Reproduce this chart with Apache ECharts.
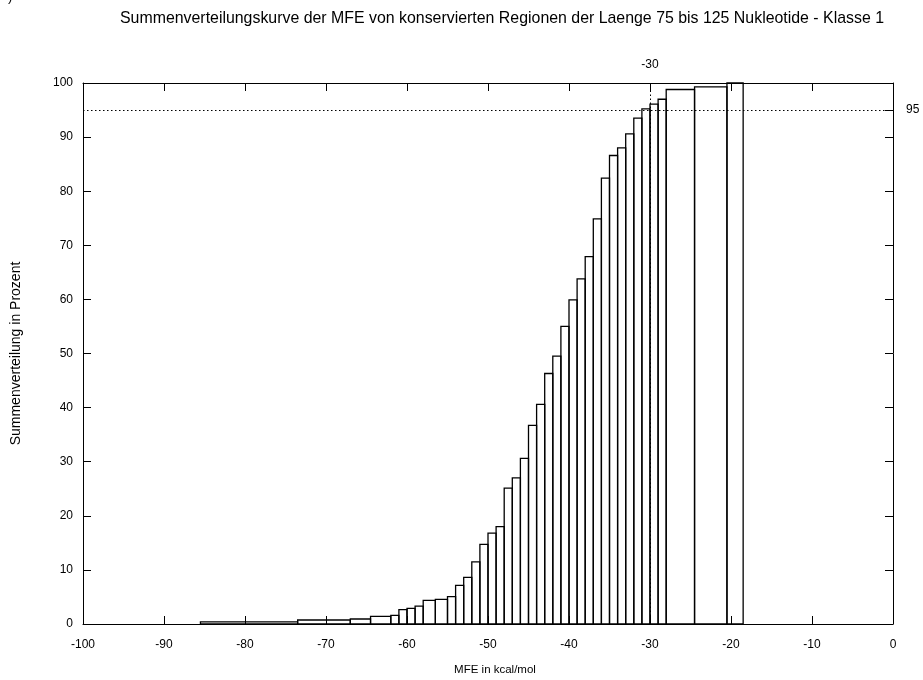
<!DOCTYPE html>
<html>
<head>
<meta charset="utf-8">
<script src="https://cdn.jsdelivr.net/npm/echarts@6/dist/echarts.min.js"></script>
<style>
html,body{margin:0;padding:0;background:#fff;}
#chart{width:923px;height:680px;}
</style>
</head>
<body>
<div id="chart"></div>
<script>
// MFE values (box centres, kcal/mol) and cumulative percentage
const mfe = [-79.5, -67.5, -66.5, -62.5, -61.5, -60.5, -59.5, -58.5, -57.5, -55.5,
  -54.5, -53.5, -52.5, -51.5, -50.5, -49.5, -48.5, -47.5, -46.5, -45.5,
  -44.5, -43.5, -42.5, -41.5, -40.5, -39.5, -38.5, -37.5, -36.5, -35.5,
  -34.5, -33.5, -32.5, -31.5, -30.5, -29.5, -28.5, -27.5, -21.5, -19.5];
const cumPercent = [0.4, 0.74, 0.92, 1.4, 1.6, 2.64, 2.88, 3.32, 4.37, 4.55,
  5.05, 7.14, 8.62, 11.5, 14.7, 16.8, 18.0, 25.1, 27.0, 30.6,
  36.7, 40.6, 46.3, 49.5, 55.0, 59.9, 63.8, 67.9, 74.9, 82.4,
  86.6, 88.0, 90.6, 93.5, 95.2, 96.1, 97.0, 98.8, 99.3, 100];
const xTicks = [-100, -90, -80, -70, -60, -50, -40, -30, -20, -10, 0];
const yTicks = [0, 10, 20, 30, 40, 50, 60, 70, 80, 90, 100];
const x2Label = [-30];
const y2Label = [95];

const titleText = 'Summenverteilungskurve der MFE von konservierten Regionen der Laenge 75 bis 125 Nukleotide - Klasse 1';
const xName = 'MFE in kcal/mol';
const yName = 'Summenverteilung in Prozent';

// gnuplot "boxes": each box reaches halfway to its neighbours
const n = mfe.length;
const boxData = mfe.map((x, i) => {
  const left = i === 0 ? x - (mfe[1] - x) / 2 : (mfe[i - 1] + x) / 2;
  const right = i === n - 1 ? x + (x - mfe[n - 2]) / 2 : (x + mfe[i + 1]) / 2;
  return [left, right, cumPercent[i]];
});

const FONT = 'Liberation Sans, Arial, Helvetica, sans-serif';
const lineStyle = { color: '#000', width: 1 };
const chart = echarts.init(document.getElementById('chart'), null, { renderer: 'canvas' });
chart.setOption({
  animation: false,
  backgroundColor: '#fff',
  textStyle: { fontFamily: FONT, color: '#000' },
  title: {
    text: titleText,
    left: 497, top: 6,
    textAlign: 'center',
    textStyle: { fontFamily: FONT, fontSize: 15.9, fontWeight: 'normal', color: '#000' }
  },
  graphic: [{ type: 'text', left: 8, top: -9, style: { text: ')', font: '13px ' + FONT, fill: '#000' } }],
  grid: { left: 83, right: 30, top: 83, bottom: 56, containLabel: false, outerBoundsMode: 'none' },
  xAxis: [{
    type: 'value', position: 'bottom', min: -100, max: 0, interval: 10,
    name: xName, nameLocation: 'middle', nameGap: 40,
    nameTextStyle: { fontFamily: FONT, fontSize: 11.5, color: '#000', padding: [0, 0, 0, 14] },
    axisLine: { show: true, onZero: false, lineStyle },
    axisTick: { show: true, inside: true, length: 8, lineStyle },
    axisLabel: { show: true, margin: 15, fontFamily: FONT, fontSize: 12, color: '#000', customValues: xTicks },
    splitLine: { show: false }
  }, {
    type: 'value', position: 'top', min: -100, max: 0, interval: 10,
    axisLine: { show: true, onZero: false, lineStyle },
    axisTick: { show: true, inside: true, length: 8, lineStyle, customValues: xTicks },
    axisLabel: { show: true, margin: 12, fontFamily: FONT, fontSize: 12, color: '#000', customValues: x2Label },
    splitLine: { show: false }
  }],
  yAxis: [{
    type: 'value', position: 'left', min: 0, max: 100, interval: 10,
    name: yName, nameLocation: 'middle', nameGap: 60,
    nameTextStyle: { fontFamily: FONT, fontSize: 14, color: '#000' },
    axisLine: { show: true, onZero: false, lineStyle },
    axisTick: { show: true, inside: true, length: 8, lineStyle },
    axisLabel: { show: true, margin: 10, fontFamily: FONT, fontSize: 12, color: '#000', customValues: yTicks },
    splitLine: { show: false }
  }, {
    type: 'value', position: 'right', min: 0, max: 100, interval: 5,
    axisLine: { show: true, onZero: false, lineStyle },
    axisTick: { show: true, inside: true, length: 8, lineStyle, customValues: yTicks.concat(y2Label) },
    axisLabel: { show: true, margin: 13, fontFamily: FONT, fontSize: 12, color: '#000', customValues: y2Label },
    splitLine: { show: false }
  }],
  series: [{
    type: 'line', data: [], xAxisIndex: 0, yAxisIndex: 0, silent: true,
    markLine: {
      silent: true, symbol: 'none', label: { show: false },
      lineStyle: { color: '#000', width: 1, type: [1.5, 2.5] },
      data: [{ xAxis: x2Label[0] }, { yAxis: y2Label[0] }]
    }
  }, {
    type: 'custom', xAxisIndex: 0, yAxisIndex: 0,
    data: boxData,
    renderItem: function (params, api) {
      const p0 = api.coord([api.value(0), 0]);
      const p1 = api.coord([api.value(1), api.value(2)]);
      return {
        type: 'rect',
        shape: { x: p0[0], y: p1[1], width: p1[0] - p0[0], height: p0[1] - p1[1] },
        style: { fill: 'none', stroke: '#000', lineWidth: 1.3 }
      };
    }
  }]
});
</script>
</body>
</html>
